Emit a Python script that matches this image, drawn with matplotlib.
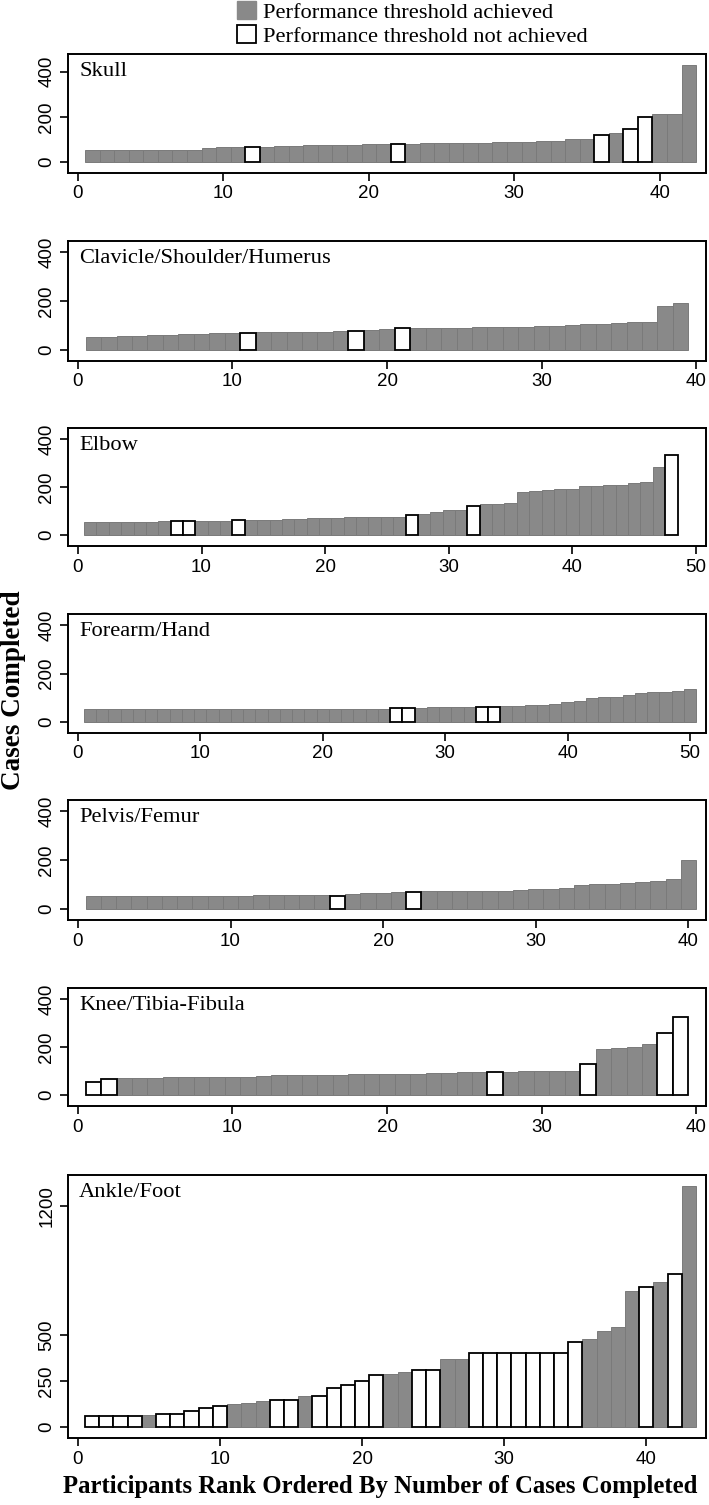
import numpy as np
import matplotlib.pyplot as plt
from matplotlib.patches import Patch


# ============================================================
# Datos (casos completados por participante)
# ============================================================

panel_names = ["Skull", "Clavicle/Shoulder/Humerus", "Elbow", "Forearm/Hand",
               "Pelvis/Femur", "Knee/Tibia-Fibula", "Ankle/Foot"]

skull = [55, 55, 55, 55, 55, 55, 55, 55, 60, 66, 66, 65, 68, 70, 72, 74, 76,
         77, 77, 78, 80, 80, 81, 83, 86, 86, 86, 86, 90, 90, 90, 92, 95, 100,
         104, 118, 128, 148, 198, 215, 215, 430]
skull_missed = [12, 22, 36, 38, 39]

clavicle = [52, 52, 58, 58, 60, 62, 64, 65, 68, 70, 70, 72, 72, 73, 74, 75,
            76, 78, 80, 85, 88, 88, 90, 90, 90, 92, 92, 95, 95, 98, 100, 104,
            106, 108, 110, 115, 115, 180, 190]
clavicle_missed = [11, 18, 21]

elbow = [54, 55, 55, 55, 55, 56, 58, 58, 58, 58, 59, 60, 61, 62, 62, 63, 66,
         66, 69, 69, 69, 73, 73, 73, 73, 74, 82, 88, 96, 105, 106, 122, 128,
         130, 135, 180, 184, 186, 190, 193, 203, 205, 207, 209, 216, 219, 284,
         332]
elbow_missed = [8, 9, 13, 27, 32, 48]

forearm = [54] * 25 + [57, 57, 57, 60, 60, 61, 61, 61, 61, 64, 67, 69, 72, 73,
                       84, 87, 98, 102, 105, 112, 118, 125, 125, 129, 137]
forearm_missed = [26, 27, 33, 34]

pelvis = [54] * 11 + [58, 58, 58, 58, 58, 55, 63, 64, 67, 68, 69, 75, 75, 75,
                      75, 75, 75, 76, 82, 82, 87, 100, 102, 102, 107, 112, 116,
                      121, 200]
pelvis_missed = [17, 22]

knee = [55, 68, 70, 72, 72, 73, 74, 75, 75, 76, 76, 80, 82, 83, 83, 84, 85,
        86, 87, 88, 88, 89, 92, 93, 95, 95, 96, 97, 100, 100, 101, 101, 130,
        192, 196, 199, 214, 258, 323]
knee_missed = [1, 2, 27, 33, 38, 39]

ankle = [58, 58, 60, 62, 65, 71, 72, 85, 103, 112, 123, 130, 139, 145, 147,
         167, 168, 214, 230, 248, 280, 290, 300, 310, 312, 370, 372, 400, 400,
         400, 400, 400, 400, 400, 460, 480, 520, 545, 740, 760, 790, 830, 1310]
ankle_missed = [1, 2, 3, 4, 6, 7, 8, 9, 10, 14, 15, 17, 18, 19, 20, 21, 24,
                25, 28, 29, 30, 31, 32, 33, 34, 35, 40, 42]

panel_values = [skull, clavicle, elbow, forearm, pelvis, knee, ankle]
panel_missed = [skull_missed, clavicle_missed, elbow_missed, forearm_missed,
                pelvis_missed, knee_missed, ankle_missed]
panel_xticks = [[0, 10, 20, 30, 40], [0, 10, 20, 30, 40],
                [0, 10, 20, 30, 40, 50], [0, 10, 20, 30, 40, 50],
                [0, 10, 20, 30, 40], [0, 10, 20, 30, 40], [0, 10, 20, 30, 40]]
panel_yticks = [[0, 200, 400]] * 6 + [[0, 250, 500, 1200]]

legend_labels = ["Performance threshold achieved",
                 "Performance threshold not achieved"]


# ============================================================
# Estilo y disposicion
# ============================================================

GRAY = "#898989"
GRAY_EDGE = "#7a7a7a"
SERIF = "Liberation Serif"
SANS = "Liberation Sans"

W, H = 709, 1505
LEFT_PX, RIGHT_PX = 68, 706
# (top, bottom) of each plot box in pixels
BOXES_PX = [(54, 173), (241, 361), (428, 546), (614, 733), (800, 920),
            (988, 1106), (1175, 1438)]
PAD_PX = 11

fig = plt.figure(figsize=(W / 100, H / 100), dpi=100)

for name, vals, missed, xt, yt, (top, bot) in zip(
        panel_names, panel_values, panel_missed, panel_xticks, panel_yticks,
        BOXES_PX):

    ax = fig.add_axes([LEFT_PX / W, 1 - bot / H, (RIGHT_PX - LEFT_PX) / W,
                       (bot - top) / H])

    vals = np.array(vals, dtype=float)
    ranks = np.arange(1, len(vals) + 1)
    is_missed = np.isin(ranks, missed)

    ax.bar(ranks[~is_missed], vals[~is_missed], width=1.0, color=GRAY,
           edgecolor=GRAY_EDGE, linewidth=0.7, zorder=2)
    ax.bar(ranks[is_missed], vals[is_missed], width=1.0, color="white",
           edgecolor="black", linewidth=1.3, zorder=3)

    # rango x: incluye el 0 y el ultimo tick, con un pequeño margen
    x_hi = max(xt[-1], len(vals) + 0.5)
    x_m = 0.016 * x_hi
    ax.set_xlim(-x_m, x_hi + x_m)

    # rango y: margen de ~11 px por arriba y por abajo
    y_hi = max(yt[-1], vals.max())
    h_px = bot - top
    y_pad = y_hi * PAD_PX / (h_px - 2 * PAD_PX)
    ax.set_ylim(-y_pad, y_hi + y_pad)

    ax.set_xticks(xt)
    ax.set_xticklabels([str(t) for t in xt], fontfamily=SANS, fontsize=13.5)
    ax.set_yticks(yt)
    ax.set_yticklabels([str(t) for t in yt], fontfamily=SANS, fontsize=13.5,
                       rotation=90, va="center")
    ax.tick_params(direction="out", length=6, width=1.2, pad=3)

    for sp in ax.spines.values():
        sp.set_linewidth(1.4)

    ax.annotate(name, xy=(0, 1), xycoords="axes fraction",
                xytext=(8, -6), textcoords="offset points",
                ha="left", va="top", fontfamily=SERIF, fontsize=16.2)

handles = [Patch(facecolor=GRAY, edgecolor=GRAY),
           Patch(facecolor="white", edgecolor="black", linewidth=1.3)]
fig.legend(handles, legend_labels, loc="upper left",
           bbox_to_anchor=(236 / W, 1.0), frameon=False,
           prop={"family": SERIF, "size": 16.2}, handlelength=0.85,
           handleheight=0.85, handletextpad=0.3, labelspacing=0.1,
           borderpad=0.05, borderaxespad=0)

fig.text(14 / W, 1 - 690 / H, "Cases Completed", rotation=90, ha="center",
         va="center", fontfamily=SERIF, fontweight="bold", fontsize=19.5)
fig.text(380 / W, 1 - 1486 / H,
         "Participants Rank Ordered By Number of Cases Completed",
         ha="center", va="center", fontfamily=SERIF, fontweight="bold",
         fontsize=17.8)

fig.savefig("out.png", dpi=100)
plt.close(fig)
